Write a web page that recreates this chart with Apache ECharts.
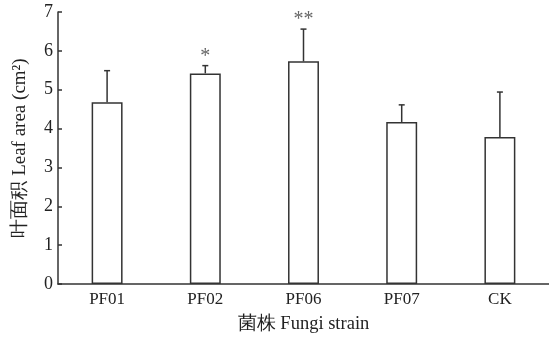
<!DOCTYPE html>
<html>
<head>
<meta charset="utf-8">
<script src="https://cdn.jsdelivr.net/npm/echarts@6/dist/echarts.min.js"></script>
<style>
  html, body { margin: 0; padding: 0; background: #fff; }
  #chart { width: 549px; height: 339px; }
</style>
</head>
<body>
<div id="chart"></div>
<script>
// 叶面积数据
var categories = ['PF01', 'PF02', 'PF06', 'PF07', 'CK'];
var means = [4.68, 5.42, 5.73, 4.17, 3.78];
var errors = [0.81, 0.20, 0.83, 0.44, 1.16];
var marks = ['', '*', '**', '', ''];
var yTicks = [0, 1, 2, 3, 4, 5, 6, 7];

var font = 'Liberation Serif, Times New Roman, serif';
var ink = '#333';

var chart = echarts.init(document.getElementById('chart'));

var errData = categories.map(function (c, i) { return [i, means[i], errors[i], marks[i]]; });

chart.setOption({
    animation: false,
    grid: { left: 58, right: 0, top: 12, bottom: 54 },
    xAxis: {
        type: 'category',
        data: categories,
        name: '菌株 Fungi strain',
        nameLocation: 'middle',
        nameGap: 31,
        nameTextStyle: { fontFamily: font, fontSize: 18.5, color: '#222' },
        axisLine: { lineStyle: { color: ink, width: 1.5 } },
        axisTick: { show: false },
        axisLabel: { fontFamily: font, fontSize: 17, color: '#222', margin: 7 }
    },
    yAxis: {
        type: 'value',
        min: yTicks[0],
        max: yTicks[yTicks.length - 1],
        interval: 1,
        name: '叶面积 Leaf area (cm²)',
        nameLocation: 'middle',
        nameGap: 28,
        nameTextStyle: { fontFamily: font, fontSize: 19, color: '#222' },
        axisLine: { show: true, lineStyle: { color: ink, width: 1.5 } },
        axisTick: { show: true, inside: true, length: 4, lineStyle: { color: ink, width: 1.5 } },
        splitLine: { show: false },
        axisLabel: { fontFamily: font, fontSize: 18, color: '#222', margin: 5 }
    },
    series: [
        {
            type: 'bar',
            data: means,
            barWidth: '31.5%',
            itemStyle: { color: '#fff', borderColor: ink, borderWidth: 1.5 }
        },
        {
            type: 'custom',
            data: errData,
            z: 5,
            renderItem: function (params, api) {
                var x = api.value(0);
                var base = api.coord([x, api.value(1)]);
                var top = api.coord([x, api.value(1) + api.value(2)]);
                var children = [
                    { type: 'line', shape: { x1: base[0], y1: base[1], x2: top[0], y2: top[1] },
                      style: { stroke: ink, lineWidth: 1.5 } },
                    { type: 'line', shape: { x1: top[0] - 3, y1: top[1], x2: top[0] + 3, y2: top[1] },
                      style: { stroke: ink, lineWidth: 1.5 } }
                ];
                var mark = api.value(3);
                if (mark) {
                    children.push({
                        type: 'text',
                        style: {
                            x: top[0], y: top[1] + 1, text: mark,
                            align: 'center', verticalAlign: 'bottom',
                            font: '20px ' + font, fill: '#666'
                        }
                    });
                }
                return { type: 'group', children: children };
            }
        }
    ]
});
</script>
</body>
</html>
